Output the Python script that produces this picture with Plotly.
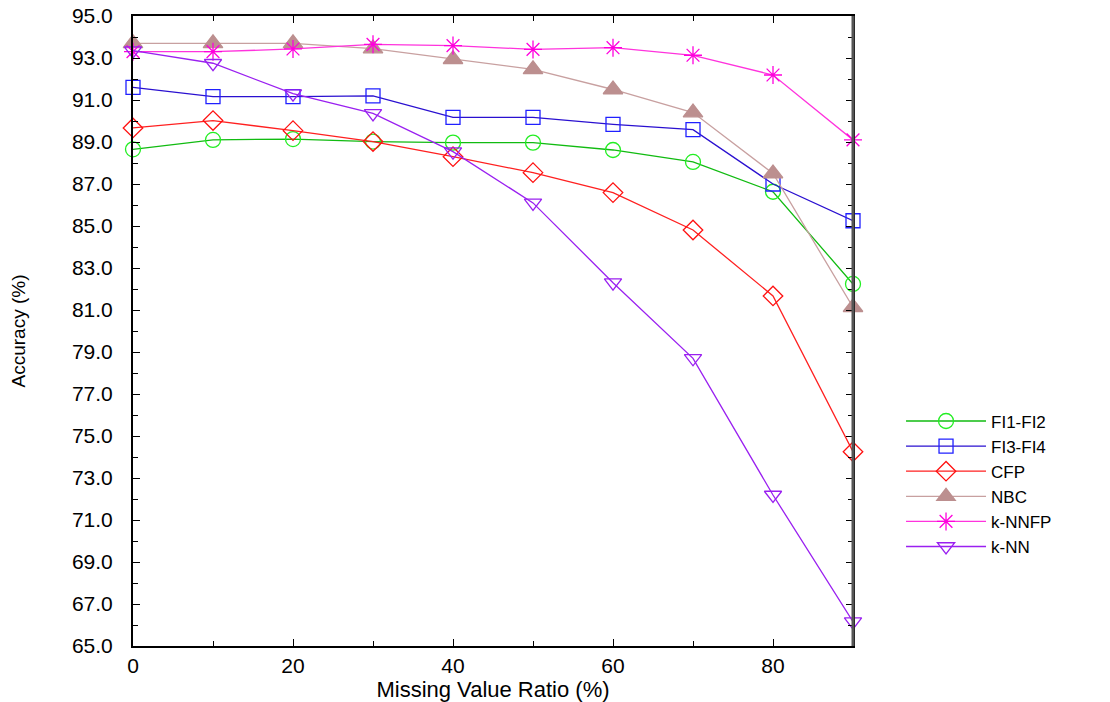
import plotly.graph_objects as go

ratio = [0, 10, 20, 30, 40, 50, 60, 70, 80, 90]

fi1_fi2 = [88.65, 89.10, 89.14, 89.02, 88.97, 88.97, 88.62, 88.05, 86.63, 82.24]
fi3_fi4 = [91.60, 91.16, 91.16, 91.20, 90.17, 90.17, 89.84, 89.59, 87.00, 85.25]
cfp = [89.67, 90.02, 89.54, 89.02, 88.30, 87.54, 86.59, 84.81, 81.67, 74.25]
nbc = [93.70, 93.70, 93.70, 93.45, 92.94, 92.46, 91.50, 90.40, 87.50, 81.13]
knnfp = [93.30, 93.30, 93.43, 93.65, 93.59, 93.41, 93.49, 93.13, 92.19, 89.10]
knn = [93.35, 92.75, 91.30, 90.36, 88.54, 86.10, 82.30, 78.70, 72.19, 66.16]

y_ticks = [65 + 2 * i for i in range(16)]
x_ticks = [0, 20, 40, 60, 80]

series = [
    ("FI1-FI2", fi1_fi2, "circle-open", "#22ee22", "#11bb11", 15),
    ("FI3-FI4", fi3_fi4, "square-open", "#2020ff", "#2a10d0", 14),
    ("CFP", cfp, "diamond-open", "#ff1010", "#ff2020", 15),
    ("NBC", nbc, "triangle-up", "#bc8f8f", "#c8a0a0", 17),
    ("k-NNFP", knnfp, "asterisk-open", "#ff00dd", "#ff33dd", 15),
    ("k-NN", knn, "triangle-down-open", "#9a20f0", "#9a20f0", 15),
]

fig = go.Figure()
for name, vals, sym, mcol, lcol, size in series:
    fig.add_trace(go.Scatter(
        x=ratio, y=vals, name=name, mode="lines+markers",
        line=dict(color=lcol, width=1.3),
        marker=dict(symbol=sym, size=size, color=mcol,
                    line=dict(color=mcol, width=1.3)),
        cliponaxis=False,
    ))

font_family = "Liberation Sans, Arial, sans-serif"

fig.update_layout(
    width=1110, height=702,
    margin=dict(l=133, r=257, t=16, b=56, autoexpand=False),
    paper_bgcolor="white", plot_bgcolor="white",
    font=dict(family=font_family, color="black"),
    showlegend=True,
    legend=dict(
        x=1.0667, y=0.385, xanchor="left", yanchor="top",
        font=dict(size=17, family=font_family, color="black"),
        itemwidth=80, tracegroupgap=0,
        bgcolor="rgba(0,0,0,0)",
    ),
    xaxis=dict(
        range=[0, 90], tickvals=x_ticks, ticktext=[str(v) for v in x_ticks],
        ticks="inside", ticklen=7, tickwidth=1.2, tickcolor="black",
        minor=dict(ticks="inside", ticklen=5, dtick=10, tick0=0, tickcolor="black"),
        showline=True, linecolor="black", linewidth=2, mirror="ticks",
        showgrid=False, zeroline=False, automargin=False,
        ticklabeloverflow="allow",
        tickfont=dict(size=21, family=font_family),
        title=dict(text="Missing Value Ratio (%)", font=dict(size=22, family=font_family), standoff=4),
    ),
    yaxis=dict(
        range=[65, 95], tickvals=y_ticks, ticktext=["%.1f" % v for v in y_ticks],
        ticks="inside", ticklen=7, tickwidth=1.2, tickcolor="black",
        minor=dict(ticks="inside", ticklen=5, dtick=1, tick0=65, tickcolor="black"),
        showline=True, linecolor="black", linewidth=2, mirror="ticks",
        showgrid=False, zeroline=False, automargin=False,
        ticklabeloverflow="allow",
        tickfont=dict(size=21, family=font_family),
        ticklabelstandoff=14,
        title=dict(text="Accuracy (%)", font=dict(size=19, family="Liberation Sans Narrow, " + font_family), standoff=41),
    ),
    shapes=[dict(type="line", xref="paper", yref="paper", x0=1, x1=1, y0=0, y1=1,
                 line=dict(color="#555555", width=3))],
)

fig.write_html("out.html", config={"displayModeBar": False},
               post_script="document.body.style.margin='0';")
